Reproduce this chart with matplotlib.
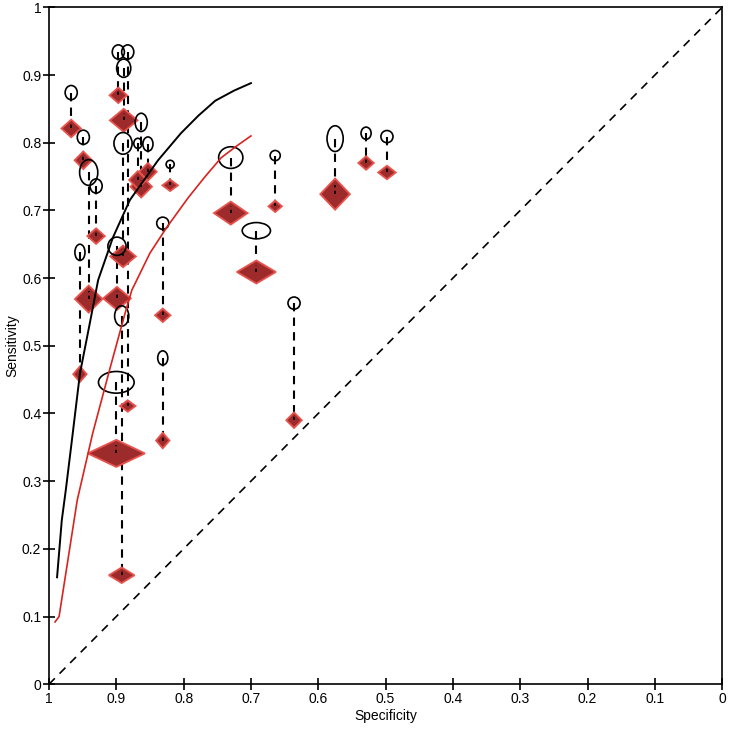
import matplotlib
matplotlib.use("Agg")
import matplotlib.pyplot as plt
from matplotlib.patches import Ellipse, Polygon

plt.rcParams['font.family'] = ['Liberation Sans', 'DejaVu Sans']

# per study: specificity, sensitivity of test 1 (ellipse) and test 2 (diamond)
spec = [0.967, 0.949, 0.941, 0.930, 0.954, 0.897, 0.883, 0.889, 0.890, 0.899,
        0.892, 0.900, 0.863, 0.868, 0.853, 0.820, 0.831, 0.831, 0.730, 0.692,
        0.664, 0.636, 0.575, 0.529, 0.498]
sens_ell = [0.874, 0.808, 0.756, 0.736, 0.638, 0.934, 0.934, 0.910, 0.799, 0.647,
            0.544, 0.446, 0.830, 0.799, 0.798, 0.768, 0.681, 0.482, 0.778, 0.670,
            0.781, 0.563, 0.806, 0.814, 0.809]
sens_dia = [0.821, 0.774, 0.569, 0.662, 0.458, 0.870, 0.411, 0.833, 0.632, 0.570,
            0.161, 0.341, 0.735, 0.745, 0.757, 0.737, 0.545, 0.360, 0.696, 0.609,
            0.706, 0.390, 0.724, 0.770, 0.756]
# marker extents (axis units)
ell_w = [0.018, 0.018, 0.027, 0.018, 0.015, 0.018, 0.018, 0.021, 0.027, 0.027,
         0.021, 0.053, 0.018, 0.012, 0.015, 0.012, 0.018, 0.015, 0.036, 0.042,
         0.015, 0.018, 0.024, 0.015, 0.018]
ell_h = [0.021, 0.021, 0.038, 0.021, 0.024, 0.021, 0.021, 0.027, 0.032, 0.027,
         0.030, 0.032, 0.027, 0.015, 0.021, 0.012, 0.018, 0.021, 0.032, 0.024,
         0.015, 0.018, 0.038, 0.018, 0.018]
dia_w = [0.029, 0.026, 0.041, 0.026, 0.020, 0.026, 0.023, 0.041, 0.038, 0.041,
         0.038, 0.085, 0.032, 0.026, 0.026, 0.023, 0.023, 0.020, 0.050, 0.058,
         0.020, 0.023, 0.044, 0.023, 0.026]
dia_h = [0.026, 0.026, 0.040, 0.023, 0.023, 0.023, 0.017, 0.034, 0.032, 0.034,
         0.023, 0.040, 0.032, 0.026, 0.026, 0.017, 0.020, 0.023, 0.034, 0.034,
         0.017, 0.023, 0.046, 0.020, 0.020]

# summary ROC curves
black_spec = [0.988, 0.981, 0.975, 0.966, 0.954, 0.940, 0.927, 0.905, 0.880, 0.838,
              0.804, 0.778, 0.753, 0.725, 0.700]
black_sens = [0.158, 0.242, 0.287, 0.360, 0.459, 0.530, 0.597, 0.660, 0.715, 0.774,
              0.814, 0.840, 0.862, 0.877, 0.888]
red_spec = [0.991, 0.985, 0.958, 0.935, 0.909, 0.887, 0.877, 0.850, 0.825, 0.793,
            0.768, 0.744, 0.720, 0.700]
red_sens = [0.092, 0.100, 0.272, 0.371, 0.468, 0.548, 0.582, 0.637, 0.675, 0.719,
            0.750, 0.778, 0.796, 0.810]

ticks = [0, 0.1, 0.2, 0.3, 0.4, 0.5, 0.6, 0.7, 0.8, 0.9, 1]
tick_labels = ['0', '0.1', '0.2', '0.3', '0.4', '0.5', '0.6', '0.7', '0.8', '0.9', '1']

fig = plt.figure(figsize=(7.31, 7.31), dpi=100)
ax = fig.add_axes([0.067, 0.064, 0.921, 0.926])

ax.plot([1, 0], [0, 1], color='black', lw=1.2, ls=(0, (5, 4)))

for i in range(len(spec)):
    ax.plot([spec[i], spec[i]], [sens_ell[i], sens_dia[i]], color='black',
            lw=1.5, ls=(0, (4, 3)), zorder=2)

for i in range(len(spec)):
    x, y, w, h = spec[i], sens_dia[i], dia_w[i] / 2, dia_h[i] / 2
    ax.add_patch(Polygon([[x - w, y], [x, y + h], [x + w, y], [x, y - h]],
                         closed=True, facecolor='#9e2b2b', edgecolor='#e8534d',
                         lw=1.3, zorder=3))
    ax.plot([x, x], [y, y + h * 0.6], color='black', lw=1.2, ls=(0, (2, 2)), zorder=4)

for i in range(len(spec)):
    ax.add_patch(Ellipse((spec[i], sens_ell[i]), ell_w[i], ell_h[i],
                         facecolor='none', edgecolor='black', lw=1.2, zorder=5))

ax.plot(black_spec, black_sens, color='black', lw=1.4, zorder=6)
ax.plot(red_spec, red_sens, color='#d8231f', lw=1.2, zorder=6)

ax.set_xlim(1, 0)
ax.set_ylim(0, 1)
ax.set_xticks(ticks)
ax.set_xticklabels(tick_labels)
ax.set_yticks(ticks)
ax.set_yticklabels(tick_labels)
ax.tick_params(direction='inout', length=9, width=1.2, labelsize=10, pad=1)
for s in ax.spines.values():
    s.set_linewidth(1.2)
ax.set_xlabel('Specificity', fontsize=10, labelpad=2)
ax.set_ylabel('Sensitivity', fontsize=10, labelpad=2)

fig.savefig('out.png', dpi=100)
